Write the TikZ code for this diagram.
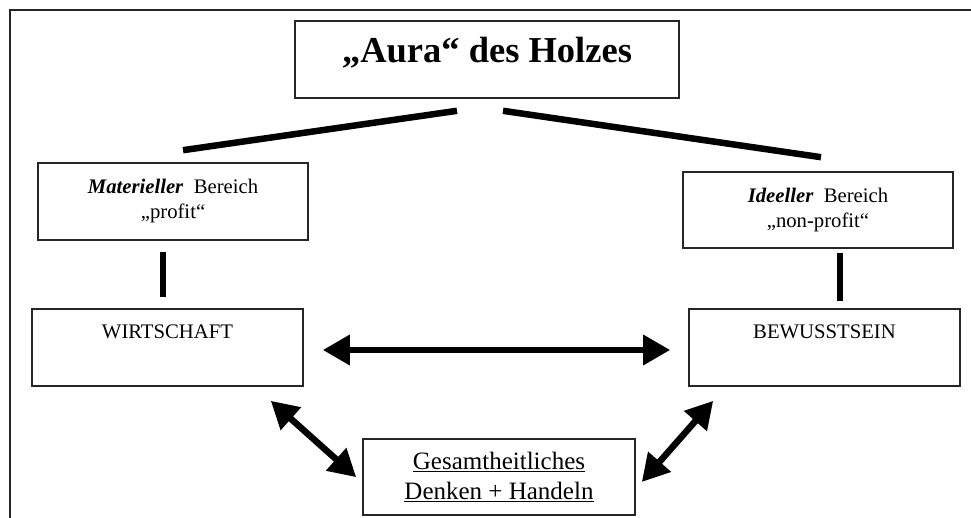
\documentclass[tikz,border=0pt]{standalone}
\usepackage{fontspec}
\setmainfont{Liberation Serif}
\usetikzlibrary{arrows.meta}

\begin{document}
\begin{tikzpicture}[x=1pt, y=-1pt,
    every node/.style={font=\fontsize{20.7}{25}\selectfont},
    box/.style={draw=black!85, line width=1.6pt, rectangle, align=center, minimum width=271pt, minimum height=77pt, inner sep=2pt},
    link/.style={line width=6.5pt},
    dbl/.style={line width=6.5pt, {Triangle[length=27pt,width=29pt]}-{Triangle[length=27pt,width=29pt]}}]
    \useasboundingbox (0,0) rectangle (971,518);
    % Frame
    \draw[line width=2.8pt, black!85] (10,518) -- (10,10) -- (971,10);

    % Aura
    \node[box, minimum width=384pt, text height=28pt, text depth=21pt, font=\fontsize{36.5}{40}\selectfont\bfseries] (aura) at (487,59.5) {„Aura“ des Holzes};

    % Materieller Bereich
    \node[box, minimum width=270pt] (mat) at (173,201.5) {\textbf{\textit{Materieller}}\ \ Bereich\\„profit“};

    % Ideeller Bereich
    \node[box, minimum width=270pt, minimum height=76pt] (ide) at (818,210) {\textbf{\textit{Ideeller}}\ \ Bereich\\„non-profit“};

    % Wirtschaft
    \node[box, text height=14pt, text depth=33pt] (wir) at (167.5,347.5) {WIRTSCHAFT};

    % Bewusstsein
    \node[box, text height=14pt, text depth=33pt] (bew) at (824.5,347.5) {BEWUSSTSEIN};

    % Gesamtheitliches Denken + Handeln
    \node[box, minimum width=272pt, minimum height=76pt, font=\fontsize{25}{30}\selectfont] (ges) at (499,477) {\underline{Gesamtheitliches}\\\underline{Denken + Handeln}};

    % Links
    \draw[link] ([shift={(10,-12)}]mat.north) -- ([shift={(-30,12)}]aura.south);
    \draw[link] ([shift={(16,12)}]aura.south) -- ([shift={(3,-14)}]ide.north);
    \draw[link] ([shift={(-10,11)}]mat.south) -- ++(0,45);
    \draw[link] ([shift={(22,4)}]ide.south) -- ++(0,48);

    % Arrows
    \draw[dbl, shorten <=19pt, shorten >=18pt] ([yshift=-2.5pt]wir.east) -- ([yshift=-2.5pt]bew.west);
    \draw[dbl] ([shift={(-33,14)}]wir.south east) -- ([shift={(-6,39)}]ges.north west);
    \draw[dbl] ([shift={(25,14)}]bew.south west) -- ([shift={(6,5)}]ges.east);
\end{tikzpicture}
\end{document}
